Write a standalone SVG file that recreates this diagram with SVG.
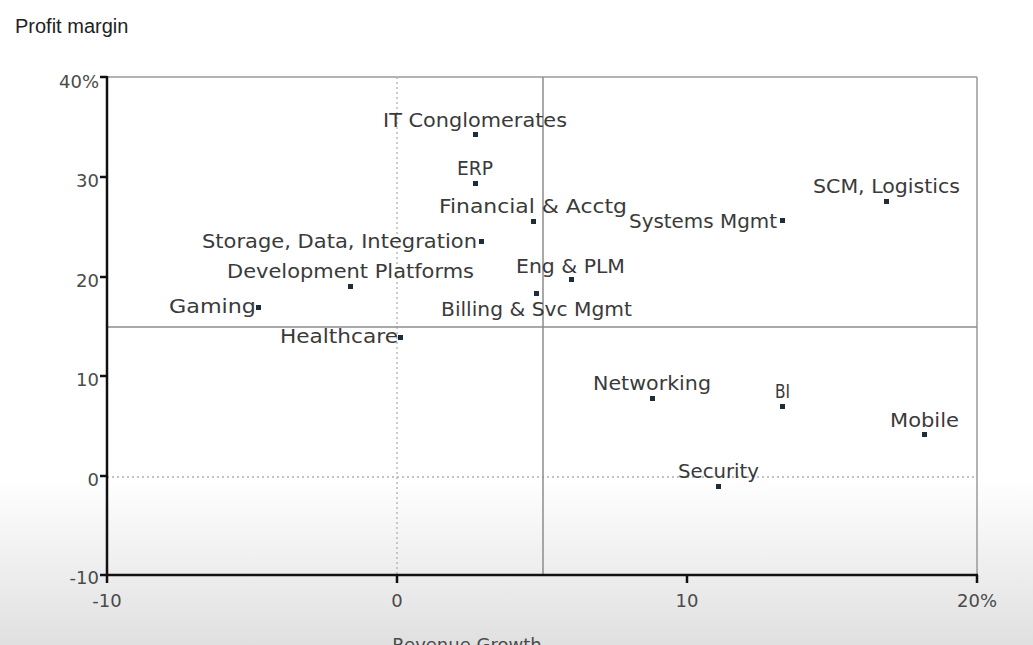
<svg xmlns="http://www.w3.org/2000/svg" width="1033" height="645" viewBox="0 0 1033 645">
<defs>
<linearGradient id="bg" x1="0" y1="0" x2="0" y2="1">
<stop offset="0" stop-color="#ffffff"/>
<stop offset="0.74" stop-color="#ffffff"/>
<stop offset="1" stop-color="#e0e0e0"/>
</linearGradient>
<style>
.lbl{font-family:"DejaVu Sans","Liberation Sans",sans-serif;font-size:19px;fill:#3a3a3a;}
.tick{font-family:"DejaVu Sans","Liberation Sans",sans-serif;font-size:18px;fill:#4a4a4a;}
.dot{fill:#1f2d3a;}
.axis{stroke:#111;stroke-width:2.5;fill:none;}
.frame{stroke:#9a9a9a;stroke-width:1.5;fill:none;}
.mid{stroke:#8c8c8c;stroke-width:1.5;fill:none;}
.dotted{stroke:#b0b0b0;stroke-width:1.3;stroke-dasharray:2 3;fill:none;}
</style>
</defs>
<rect x="0" y="0" width="1033" height="645" fill="url(#bg)"/>
<text x="15" y="33" font-family="Liberation Sans, Arial, sans-serif" font-size="20" fill="#222">Profit margin</text>

<g id="grid">
<line class="frame" x1="107" y1="77" x2="977" y2="77"/>
<line class="frame" x1="977" y1="77" x2="977" y2="575"/>
<line class="dotted" x1="397" y1="77" x2="397" y2="575"/>
<line class="dotted" x1="107" y1="477" x2="977" y2="477"/>
<line class="mid" x1="543" y1="77" x2="543" y2="575"/>
<line class="mid" x1="107" y1="327" x2="977" y2="327"/>
</g>

<g id="axes">
<line class="axis" x1="107" y1="76" x2="107" y2="576"/>
<line class="axis" x1="106" y1="575" x2="978" y2="575"/>
<g stroke="#111" stroke-width="2.5">
<line x1="100" y1="77" x2="107" y2="77"/>
<line x1="100" y1="177" x2="107" y2="177"/>
<line x1="100" y1="277" x2="107" y2="277"/>
<line x1="100" y1="376" x2="107" y2="376"/>
<line x1="100" y1="476" x2="107" y2="476"/>
<line x1="100" y1="575" x2="107" y2="575"/>
<line x1="107" y1="575" x2="107" y2="583"/>
<line x1="397" y1="575" x2="397" y2="583"/>
<line x1="687" y1="575" x2="687" y2="583"/>
<line x1="977" y1="575" x2="977" y2="583"/>
</g>
<g class="tick" text-anchor="end">
<text x="99" y="88">40%</text>
<text x="99" y="187">30</text>
<text x="99" y="287">20</text>
<text x="99" y="386">10</text>
<text x="99" y="486">0</text>
<text x="99" y="584">-10</text>
</g>
<g class="tick" text-anchor="middle">
<text x="107" y="607">-10</text>
<text x="397" y="607">0</text>
<text x="687" y="607">10</text>
<text x="977" y="607">20%</text>
</g>
<text class="tick" x="467" y="651" text-anchor="middle" font-size="19">Revenue Growth</text>
</g>

<g id="it-conglomerates"><rect class="dot" x="473" y="132" width="5" height="5"/><text class="lbl" x="383" y="127" textLength="184" lengthAdjust="spacingAndGlyphs">IT Conglomerates</text></g>
<g id="erp"><rect class="dot" x="473" y="181" width="5" height="5"/><text class="lbl" x="457" y="175" textLength="36" lengthAdjust="spacingAndGlyphs">ERP</text></g>
<g id="financial-acctg"><rect class="dot" x="531" y="219" width="5" height="5"/><text class="lbl" x="439" y="213" textLength="188" lengthAdjust="spacingAndGlyphs">Financial &amp; Acctg</text></g>
<g id="systems-mgmt"><rect class="dot" x="780" y="218" width="5" height="5"/><text class="lbl" x="629" y="228" textLength="148" lengthAdjust="spacingAndGlyphs">Systems Mgmt</text></g>
<g id="scm-logistics"><rect class="dot" x="884" y="199" width="5" height="5"/><text class="lbl" x="813" y="193" textLength="147" lengthAdjust="spacingAndGlyphs">SCM, Logistics</text></g>
<g id="storage"><rect class="dot" x="479" y="239" width="5" height="5"/><text class="lbl" x="202" y="248" textLength="275" lengthAdjust="spacingAndGlyphs">Storage, Data, Integration</text></g>
<g id="dev-platforms"><rect class="dot" x="348" y="284" width="5" height="5"/><text class="lbl" x="227" y="278" textLength="247" lengthAdjust="spacingAndGlyphs">Development Platforms</text></g>
<g id="eng-plm"><rect class="dot" x="569" y="277" width="5" height="5"/><text class="lbl" x="516" y="273" textLength="109" lengthAdjust="spacingAndGlyphs">Eng &amp; PLM</text></g>
<g id="billing"><rect class="dot" x="534" y="291" width="5" height="5"/><text class="lbl" x="441" y="316" textLength="191" lengthAdjust="spacingAndGlyphs">Billing &amp; Svc Mgmt</text></g>
<g id="gaming"><rect class="dot" x="256" y="305" width="5" height="5"/><text class="lbl" x="169" y="313" textLength="87" lengthAdjust="spacingAndGlyphs">Gaming</text></g>
<g id="healthcare"><rect class="dot" x="398" y="335" width="5" height="5"/><text class="lbl" x="280" y="343" textLength="118" lengthAdjust="spacingAndGlyphs">Healthcare</text></g>
<g id="networking"><rect class="dot" x="650" y="396" width="5" height="5"/><text class="lbl" x="593" y="390" textLength="118" lengthAdjust="spacingAndGlyphs">Networking</text></g>
<g id="bi"><rect class="dot" x="780" y="404" width="5" height="5"/><text class="lbl" x="775" y="398" textLength="15" lengthAdjust="spacingAndGlyphs">BI</text></g>
<g id="mobile"><rect class="dot" x="922" y="432" width="5" height="5"/><text class="lbl" x="890" y="427" textLength="69" lengthAdjust="spacingAndGlyphs">Mobile</text></g>
<g id="security"><rect class="dot" x="716" y="484" width="5" height="5"/><text class="lbl" x="678" y="478" textLength="81" lengthAdjust="spacingAndGlyphs">Security</text></g>
</svg>
